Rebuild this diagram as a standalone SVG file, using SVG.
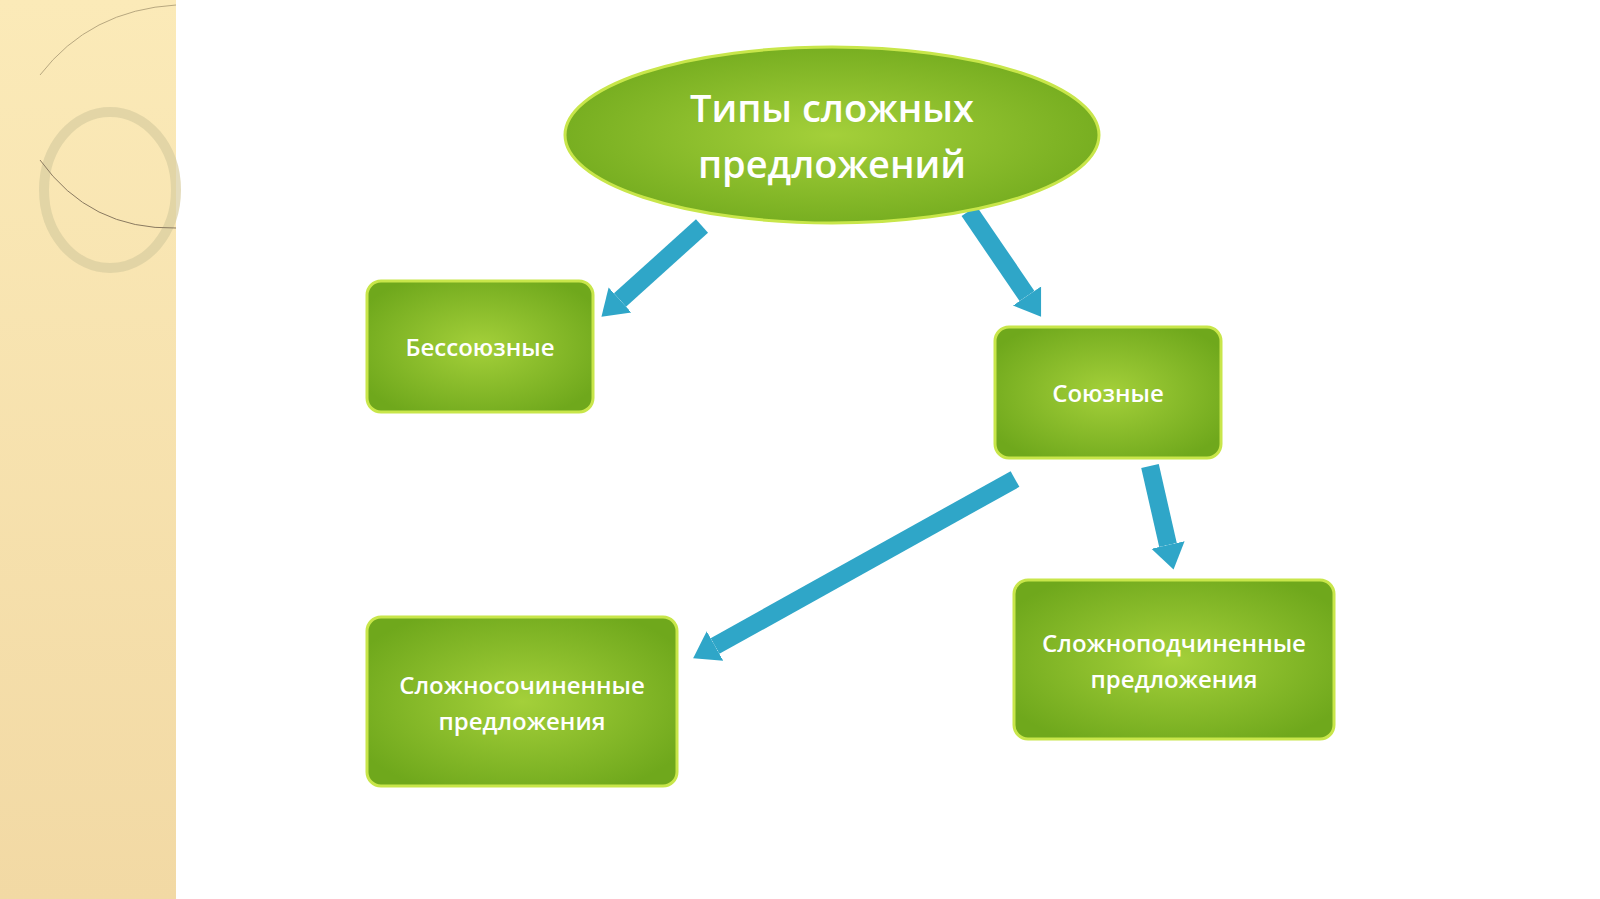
<svg xmlns="http://www.w3.org/2000/svg" width="1600" height="899" viewBox="0 0 1600 899">
<defs>
<linearGradient id="band" x1="0" y1="0" x2="0" y2="1"><stop offset="0" stop-color="#fbeab8"/><stop offset="1" stop-color="#f2d9a4"/></linearGradient>
<radialGradient id="g" cx="0.5" cy="0.5" r="0.6"><stop offset="0" stop-color="#a4d03a"/><stop offset="1" stop-color="#6fa81c"/></radialGradient>
<marker id="ah" markerUnits="userSpaceOnUse" markerWidth="26" markerHeight="36" refX="0" refY="18" orient="auto"><path d="M0,1 L25,18 L0,35 z" fill="#2fa6c8"/></marker>
<style>
.n{fill:url(#g);stroke:#c8e64a;stroke-width:3}
.t{fill:#fff;font-family:"Open Sans","Noto Sans",sans-serif;font-weight:600;text-anchor:middle}
.a{stroke:#2fa6c8;stroke-width:18;fill:none}
</style>
</defs>
<rect width="1600" height="899" fill="#fff"/>
<rect width="176" height="899" fill="url(#band)"/>
<ellipse cx="110" cy="190" rx="66" ry="78" fill="none" stroke="#d9cda0" stroke-width="10" opacity="0.7"/>
<path d="M40,75 Q90,10 176,5" fill="none" stroke="#b8a880" stroke-width="1"/>
<path d="M40,160 Q90,230 176,228" fill="none" stroke="#8a7a60" stroke-width="1"/>
<g id="connectors">
<line class="a" x1="702" y1="226" x2="620" y2="300" marker-end="url(#ah)"/>
<line class="a" x1="969" y1="211" x2="1027" y2="296" marker-end="url(#ah)"/>
<line class="a" x1="1015" y1="479" x2="715" y2="646" marker-end="url(#ah)"/>
<line class="a" x1="1150" y1="466" x2="1168" y2="545" marker-end="url(#ah)"/>
</g>
<g id="root"><ellipse class="n" cx="832" cy="135" rx="267" ry="88"/>
<text class="t" x="832" y="122" font-size="38">Типы сложных</text>
<text class="t" x="832" y="178" font-size="38">предложений</text></g>
<g id="n1"><rect class="n" x="367" y="281" width="226" height="131" rx="14"/>
<text class="t" x="480" y="356" font-size="24">Бессоюзные</text></g>
<g id="n2"><rect class="n" x="995" y="327" width="226" height="131" rx="14"/>
<text class="t" x="1108" y="402" font-size="24">Союзные</text></g>
<g id="n3"><rect class="n" x="367" y="617" width="310" height="169" rx="14"/>
<text class="t" x="522" y="694" font-size="24">Сложносочиненные</text>
<text class="t" x="522" y="730" font-size="24">предложения</text></g>
<g id="n4"><rect class="n" x="1014" y="580" width="320" height="159" rx="14"/>
<text class="t" x="1174" y="652" font-size="24">Сложноподчиненные</text>
<text class="t" x="1174" y="688" font-size="24">предложения</text></g>
</svg>
